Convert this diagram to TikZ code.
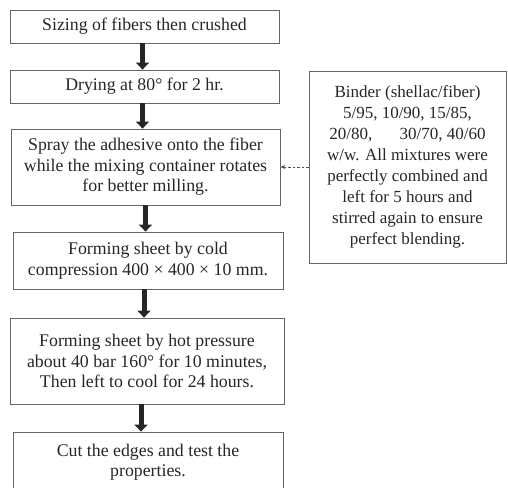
\documentclass[tikz,border=0pt]{standalone}
\usepackage{fontspec}
\setmainfont{Liberation Serif}
\usetikzlibrary{arrows.meta}

\begin{document}
\begin{tikzpicture}[x=1pt,y=-1pt,
  stepbox/.style={draw=black!60, line width=0.8pt, text=black!85, align=center, inner sep=0pt, font=\fontsize{17.8}{20.5}\selectfont},
  flow/.style={black!85, line width=5pt, -{Triangle[width=13pt,length=7pt]}},
  feed/.style={black!70, line width=0.7pt, dash pattern=on 2.5pt off 2pt, -{Stealth[length=5pt,width=4pt]}}]
\useasboundingbox (0,0) rectangle (508,487);
\node [stepbox, minimum width=269, minimum height=33] (sizing) at (144.5,26.5) {Sizing of fibers then crushed};
\node [stepbox, minimum width=269, minimum height=33] (drying) at (144.5,86.5) {Drying at 80° for 2 hr.};
\node [stepbox, minimum width=269, minimum height=76] (spray) at (145.5,167) {Spray the adhesive onto the fiber\\while the mixing container rotates\\for better milling.};
\node [stepbox, minimum width=270, minimum height=57] (cold) at (148,260.5) {Forming sheet by cold\\compression 400 × 400 × 10 mm.};
\node [stepbox, minimum width=274, minimum height=86] (hot) at (147,361) {Forming sheet by hot pressure\\about 40 bar 160° for 10 minutes,\\Then left to cool for 24 hours.};
\node [stepbox, minimum width=270, minimum height=60] (cut) at (148,462) {Cut the edges and test the\\properties.};
\node [stepbox, minimum width=197, minimum height=192, font=\fontsize{17}{21}\selectfont] (binder) at (407.5,167) {Binder (shellac/fiber)\\5/95, 10/90, 15/85,\\20/80,\hspace{1.6em}30/70, 40/60\\w/w. All mixtures were\\perfectly combined and\\left for 5 hours and\\stirred again to ensure\\perfect blending.};
\draw [flow] ([xshift=-2pt]sizing.south) -- ([xshift=-2pt]sizing.south |- drying.north);
\draw [flow] ([xshift=-2pt]drying.south) -- ([xshift=-2pt]drying.south |- spray.north);
\draw [flow] (spray.south) -- (spray.south |- cold.north);
\draw [flow] ([xshift=-4pt]cold.south) -- ([xshift=-4pt]cold.south |- hot.north);
\draw [flow] ([xshift=-6pt]hot.south) -- ([xshift=-6pt]hot.south |- cut.north);
\draw [feed] (binder.west) -- (spray.east);
\end{tikzpicture}
\end{document}
